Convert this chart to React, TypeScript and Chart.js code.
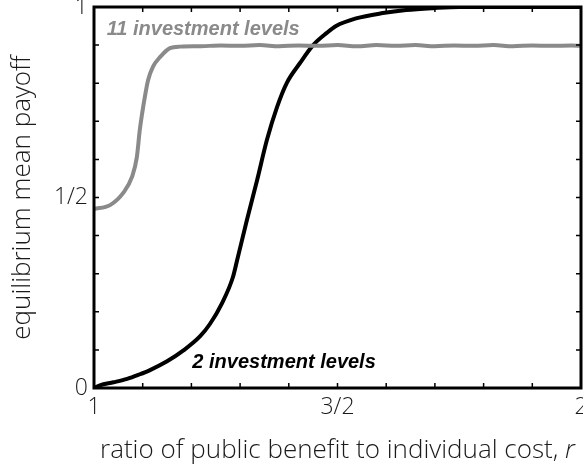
import React, { useEffect, useRef } from "react";
import { Chart, registerables } from "chart.js";

Chart.register(...registerables);

// ---- data ----
const GRAY_R = [1.0, 1.033, 1.06, 1.078, 1.088, 1.094, 1.101, 1.111, 1.121, 1.136, 1.156, 1.177, 1.22, 1.26, 1.3, 1.34, 1.38, 1.42, 1.46, 1.5, 1.54, 1.58, 1.62, 1.66, 1.7, 1.74, 1.78, 1.82, 1.86, 1.9, 1.94, 1.98, 2.0];
const GRAY_PAYOFF = [0.47, 0.48, 0.512, 0.554, 0.606, 0.677, 0.738, 0.808, 0.843, 0.869, 0.892, 0.896, 0.897, 0.899, 0.898, 0.9, 0.897, 0.899, 0.898, 0.9, 0.897, 0.9, 0.898, 0.9, 0.897, 0.899, 0.898, 0.9, 0.897, 0.899, 0.898, 0.899, 0.898];

const BLACK_R = [1.0, 1.012, 1.04, 1.068, 1.092, 1.115, 1.15, 1.183, 1.218, 1.238, 1.263, 1.285, 1.294, 1.314, 1.335, 1.355, 1.376, 1.396, 1.423, 1.45, 1.478, 1.497, 1.538, 1.593, 1.641, 1.696, 1.75, 1.85, 2.0];
const BLACK_PAYOFF = [0.0, 0.007, 0.015, 0.024, 0.035, 0.047, 0.07, 0.098, 0.136, 0.168, 0.223, 0.29, 0.336, 0.441, 0.546, 0.651, 0.738, 0.801, 0.853, 0.9, 0.932, 0.95, 0.97, 0.984, 0.992, 0.997, 1.0, 1.0, 1.0];

const X_TICKS = [1.0, 1.1, 1.2, 1.3, 1.4, 1.5, 1.6, 1.7, 1.8, 1.9, 2.0];
const Y_TICKS = [0, 0.1, 0.2, 0.3, 0.4, 0.5, 0.6, 0.7, 0.8, 0.9, 1.0];
const X_LABELS: Record<string, string> = { "1.0": "1", "1.5": "3/2", "2.0": "2" };
const Y_LABELS: Record<string, string> = { "0.0": "0", "0.5": "1/2", "1.0": "1" };

const SERIES_NAMES = ["11 investment levels", "2 investment levels"];
const LABEL_POS = [
  { x: 1.026, y: 0.942 },
  { x: 1.202, y: 0.066 },
];
const X_TITLE = "ratio of public benefit to individual cost, ";
const X_TITLE_VAR = "r";
const Y_TITLE = "equilibrium mean payoff";

const GRAY = "#8a8a8a";
const TEXT = "#1a1a1a";
const LIGHT_FONT = "'Open Sans', 'Liberation Sans', sans-serif";

const framePlugin = {
  id: "frame",
  afterDatasetsDraw(chart: any) {
    const { ctx, chartArea: a, scales } = chart;
    const xs = scales.x;
    const ys = scales.y;
    ctx.save();
    ctx.strokeStyle = "#000";
    ctx.lineWidth = 1.5;
    const tl = 5;
    X_TICKS.forEach((v, i) => {
      if (i === 0 || i === X_TICKS.length - 1) return;
      const px = xs.getPixelForValue(v);
      ctx.beginPath();
      ctx.moveTo(px, a.bottom);
      ctx.lineTo(px, a.bottom - tl);
      ctx.moveTo(px, a.top);
      ctx.lineTo(px, a.top + tl);
      ctx.stroke();
    });
    Y_TICKS.forEach((v, i) => {
      if (i === 0 || i === Y_TICKS.length - 1) return;
      const py = ys.getPixelForValue(v);
      ctx.beginPath();
      ctx.moveTo(a.left, py);
      ctx.lineTo(a.left + tl, py);
      ctx.moveTo(a.right, py);
      ctx.lineTo(a.right - tl, py);
      ctx.stroke();
    });
    ctx.lineWidth = 3;
    ctx.strokeRect(a.left, a.top, a.right - a.left, a.bottom - a.top);

    // series labels
    ctx.textBaseline = "middle";
    ctx.textAlign = "left";
    ctx.font = "italic bold 20px 'Liberation Sans', Arial, sans-serif";
    const colors = [GRAY, "#000"];
    SERIES_NAMES.forEach((name, i) => {
      ctx.fillStyle = colors[i];
      ctx.fillText(name, xs.getPixelForValue(LABEL_POS[i].x), ys.getPixelForValue(LABEL_POS[i].y));
    });

    // x title with italic variable
    ctx.fillStyle = TEXT;
    ctx.textBaseline = "alphabetic";
    const mainFont = `300 26px ${LIGHT_FONT}`;
    const varFont = `italic 300 26px ${LIGHT_FONT}`;
    ctx.font = mainFont;
    const w1 = ctx.measureText(X_TITLE).width;
    ctx.font = varFont;
    const w2 = ctx.measureText(X_TITLE_VAR).width;
    const cx = (a.left + a.right) / 2;
    const start = cx - (w1 + w2) / 2;
    const by = a.bottom + 70;
    ctx.font = mainFont;
    ctx.fillText(X_TITLE, start, by);
    ctx.font = varFont;
    ctx.fillText(X_TITLE_VAR, start + w1, by);
    ctx.restore();
  },
};

export default function App() {
  const ref = useRef<HTMLCanvasElement | null>(null);
  useEffect(() => {
    if (!ref.current) return;
    const tickFont = { family: LIGHT_FONT, size: 23, weight: "300" as any };
    const chart = new Chart(ref.current, {
      type: "line",
      data: {
        datasets: [
          {
            label: SERIES_NAMES[0],
            data: GRAY_R.map((x, i) => ({ x, y: GRAY_PAYOFF[i] })),
            borderColor: GRAY,
            borderWidth: 4,
            pointRadius: 0,
            fill: false,
            cubicInterpolationMode: "monotone",
          },
          {
            label: SERIES_NAMES[1],
            data: BLACK_R.map((x, i) => ({ x, y: BLACK_PAYOFF[i] })),
            borderColor: "#000",
            borderWidth: 4,
            pointRadius: 0,
            fill: false,
            cubicInterpolationMode: "monotone",
          },
        ],
      },
      options: {
        animation: false,
        responsive: false,
        layout: { padding: { left: 0, right: 2, top: 7, bottom: 0 } },
        plugins: { legend: { display: false }, tooltip: { enabled: false } },
        scales: {
          x: {
            type: "linear",
            min: 1,
            max: 2,
            afterBuildTicks: (s: any) => {
              s.ticks = X_TICKS.map((value) => ({ value }));
            },
            afterFit: (s: any) => {
              s.height = 78;
              s.paddingLeft = 0;
              s.paddingRight = 0;
            },
            ticks: {
              autoSkip: false,
              maxRotation: 0,
              padding: 6,
              color: TEXT,
              font: tickFont,
              callback: (v: any) => X_LABELS[Number(v).toFixed(1)] ?? "",
            },
            grid: { display: false, drawTicks: false },
            border: { display: false },
          },
          y: {
            type: "linear",
            min: 0,
            max: 1,
            afterBuildTicks: (s: any) => {
              s.ticks = Y_TICKS.map((value) => ({ value }));
            },
            afterFit: (s: any) => {
              s.width = 94;
              s.paddingTop = 0;
              s.paddingBottom = 0;
            },
            ticks: {
              autoSkip: false,
              padding: 6,
              color: TEXT,
              font: tickFont,
              callback: (v: any) => Y_LABELS[Number(v).toFixed(1)] ?? "",
            },
            grid: { display: false, drawTicks: false },
            border: { display: false },
            title: {
              display: true,
              text: Y_TITLE,
              color: TEXT,
              font: { family: LIGHT_FONT, size: 26, weight: "300" as any },
              padding: { top: 7, bottom: 0 },
            },
          },
        },
      },
      plugins: [framePlugin],
    } as any);
    return () => chart.destroy();
  }, []);
  return (
    <div style={{ position: "fixed", left: 0, top: 0, width: 583, height: 466, background: "#fff" }}>
      <canvas ref={ref} width={583} height={466} style={{ display: "block" }} />
    </div>
  );
}
